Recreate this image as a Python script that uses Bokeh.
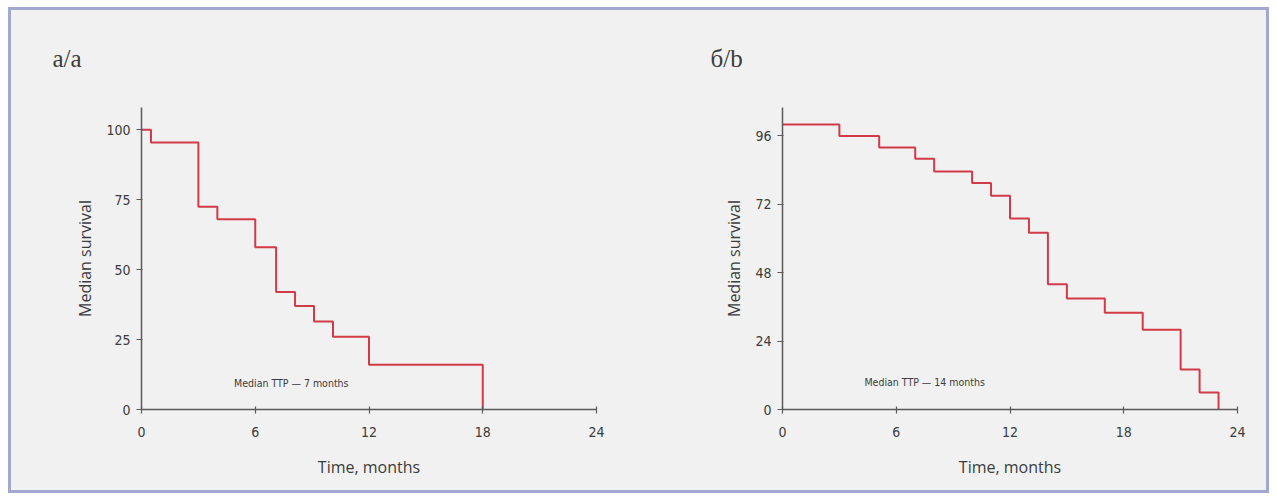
from bokeh.plotting import figure
from bokeh.layouts import row, column
from bokeh.models import Range1d, FixedTicker, Label, Spacer
from bokeh.embed import file_html
from bokeh.resources import INLINE

# ---- data ----
months_ticks = [0, 6, 12, 18, 24]

a_time = [0, 0.5, 3, 4, 6, 7.1, 8.1, 9.1, 10.1, 12, 18]
a_surv = [100, 95.5, 72.5, 68, 58, 42, 37, 31.5, 26, 16, 0]
a_yticks = [0, 25, 50, 75, 100]
a_title = "а/a"
a_note = "Median TTP — 7 months"

b_time = [0, 3, 5.1, 7, 8, 10, 11, 12, 13, 14, 15, 17, 19, 21, 22, 23]
b_surv = [100, 96, 92, 88, 83.5, 79.5, 75, 67, 62, 44, 39, 34, 28, 14, 6, 0]
b_yticks = [0, 24, 48, 72, 96]
b_title = "б/b"
b_note = "Median TTP — 14 months"

x_label = "Time, months"
y_label = "Median survival"

BG = "#f1f1f1"
AX = "#5a5a5a"
TXT = "#3c3c3c"
RED = "#d23a48"
NARROW = "DejaVu Sans Condensed"
SANS = "Open Sans"
SERIF = "Liberation Serif"


def panel(times, surv, yticks, ymax, title, title_off, note, note_x, width, left, right):
    p = figure(width=width, height=480, output_backend="svg", toolbar_location=None,
               x_range=Range1d(0, 24), y_range=Range1d(0, ymax),
               min_border_left=left, min_border_right=right,
               min_border_top=97, min_border_bottom=81)
    p.background_fill_color = BG
    p.border_fill_color = BG
    p.outline_line_color = None
    p.grid.visible = False
    p.step(times, surv, mode="after", line_color=RED, line_width=2)

    p.title.text = title
    p.title.align = "left"
    p.title.vertical_align = "top"
    p.title.offset = title_off
    p.title.standoff = 67
    p.title.text_font = SERIF
    p.title.text_font_size = "25px"
    p.title.text_font_style = "normal"
    p.title.text_color = TXT

    p.xaxis.ticker = FixedTicker(ticks=months_ticks)
    p.yaxis.ticker = FixedTicker(ticks=yticks)
    for ax in (p.xaxis[0], p.yaxis[0]):
        ax.axis_line_color = AX
        ax.axis_line_width = 1.5
        ax.major_tick_line_color = AX
        ax.major_tick_line_width = 1.2
        ax.minor_tick_line_color = None
        ax.major_label_text_font = NARROW
        ax.major_label_text_font_size = "14px"
        ax.major_label_text_color = TXT
        ax.axis_label_text_font = SANS
        ax.axis_label_text_font_style = "normal"
        ax.axis_label_text_color = TXT
        ax.axis_label_text_font_size = "16px"
    p.xaxis.major_tick_in = 3
    p.xaxis.major_tick_out = 4
    p.yaxis.major_tick_in = 1
    p.yaxis.major_tick_out = 5
    p.xaxis.major_label_standoff = 13
    p.yaxis.major_label_standoff = 6
    p.xaxis.axis_label = x_label
    p.yaxis.axis_label = y_label
    p.xaxis.axis_label_standoff = 16
    p.yaxis.axis_label_standoff = 7

    p.add_layout(Label(x=note_x, y=9.5, text=note, text_font=NARROW,
                       text_font_size="10.5px", text_color=TXT,
                       text_align="center", text_baseline="middle"))
    return p


pa = panel(a_time, a_surv, a_yticks, 108, a_title, -89, a_note, 7.9, 629, 130, 44)
pb = panel(b_time, b_surv, b_yticks, 106, b_title, -72, b_note, 7.5, 626, 142, 29)

box = row(pa, pb, styles={"border": "3px solid #a3a8d0", "background-color": BG})
layout = column(Spacer(height=7), row(Spacer(width=8), box))

open("out.html", "w").write(file_html(layout, INLINE))
